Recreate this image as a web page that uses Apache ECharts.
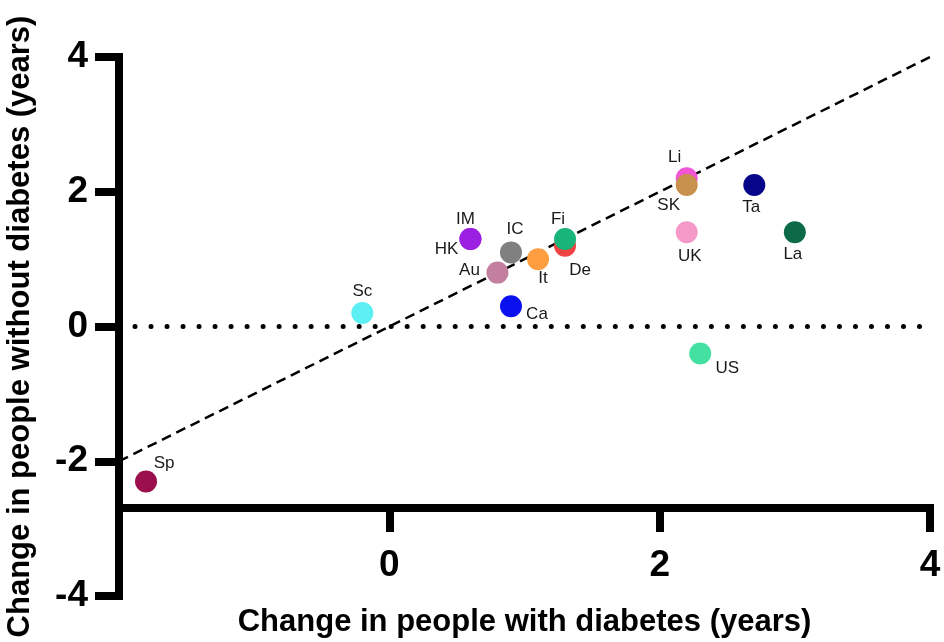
<!DOCTYPE html>
<html>
<head>
<meta charset="utf-8">
<script src="https://cdn.jsdelivr.net/npm/echarts@6/dist/echarts.min.js"></script>
<style>
  html, body { margin: 0; padding: 0; background: #fff; }
  #chart { width: 944px; height: 642px; }
</style>
</head>
<body>
<div id="chart"></div>
<script>
// Country codes and the change in life expectancy (years)
const countries       = ['Sp', 'Sc', 'HK', 'IM', 'Au', 'IC', 'Ca', 'It', 'De', 'Fi', 'Li', 'SK', 'UK', 'Ta', 'La', 'US'];
const withDiabetes    = [-1.8, -0.2, 0.6, 0.6, 0.8, 0.9, 0.9, 1.1, 1.3, 1.3, 2.2, 2.2, 2.2, 2.7, 3.0, 2.3];
const withoutDiabetes = [-2.3,  0.2, 1.3, 1.3, 0.8, 1.1, 0.3, 1.0, 1.2, 1.3, 2.2, 2.1, 1.4, 2.1, 1.4, -0.4];
const xTicks = [-2, 0, 2, 4];
const yTicks = [-4, -2, 0, 2, 4];

// Marker colours and label placement per country
const colours = {
  Sp: '#9a0f4c', Sc: '#5cf0f5', HK: '#9c20e2', IM: '#9c20e2', Au: '#c27f9f',
  IC: '#808080', Ca: '#0a10ee', It: '#ff9e40', De: '#f04444', Fi: '#18b47a',
  Li: '#f055d6', SK: '#c9924c', UK: '#f59ac8', Ta: '#06068a', La: '#0c6a46', US: '#44e0a2'
};
const labelOffsets = {
  Sp: [18, -18], Sc: [0, -22], HK: [-24, 10], IM: [-5, -20], Au: [-28, -2],
  IC: [4, -23], Ca: [26, 8], It: [5, 19], De: [15, 25], Fi: [-7, -20],
  Li: [-12, -21], SK: [-18, 20], UK: [3, 24], Ta: [-3, 22], La: [-2, 22], US: [27, 15]
};

const axisFont = "'Liberation Sans', Arial, sans-serif";
const labelFont = "'Liberation Sans', Arial, sans-serif";

const points = countries.map((c, i) => ({
  name: c,
  value: [withDiabetes[i], withoutDiabetes[i]],
  itemStyle: { color: colours[c], opacity: 1 },
  label: { offset: labelOffsets[c] }
}));

const chart = echarts.init(document.getElementById('chart'), null, { renderer: 'canvas' });
chart.setOption({
  animation: false,
  backgroundColor: '#fff',
  grid: { left: 119, right: 14, top: 57, bottom: 46, containLabel: false, outerBoundsMode: 'none' },
  xAxis: {
    type: 'value',
    min: xTicks[0], max: xTicks[xTicks.length - 1], interval: 2,
    offset: -88,
    axisLine: { onZero: false, lineStyle: { color: '#000', width: 8, cap: 'square' } },
    axisTick: { show: true, length: 24, lineStyle: { color: '#000', width: 8 } },
    axisLabel: { showMinLabel: false, margin: 39, color: '#000', fontSize: 37, fontWeight: 'bold', fontFamily: axisFont },
    splitLine: { show: false },
    name: 'Change in people with diabetes (years)',
    nameLocation: 'middle', nameGap: 99,
    nameTextStyle: { color: '#000', fontSize: 31, fontWeight: 'bold', fontFamily: axisFont }
  },
  yAxis: {
    type: 'value',
    min: yTicks[0], max: yTicks[yTicks.length - 1], interval: 2,
    axisLine: { show: true, onZero: false, lineStyle: { color: '#000', width: 8, cap: 'square' } },
    axisTick: { show: true, length: 24, lineStyle: { color: '#000', width: 8 } },
    axisLabel: { margin: 31, color: '#000', fontSize: 37, fontWeight: 'bold', fontFamily: axisFont },
    splitLine: { show: false },
    name: 'Change in people without diabetes (years)',
    nameLocation: 'middle', nameGap: 83, nameRotate: 90,
    nameTextStyle: { color: '#000', fontSize: 31, fontWeight: 'bold', fontFamily: axisFont }
  },
  series: [
    {
      // line of equal change
      type: 'line',
      data: [[xTicks[0], xTicks[0]], [xTicks[xTicks.length - 1], xTicks[xTicks.length - 1]]],
      symbol: 'none', silent: true, z: 1,
      lineStyle: { color: '#000', width: 2.5, type: [10, 6] }
    },
    {
      // zero change in people without diabetes
      type: 'line',
      data: [[xTicks[0], 0], [xTicks[xTicks.length - 1], 0]],
      symbol: 'none', silent: true, z: 1,
      lineStyle: { color: '#000', width: 5, type: [0.01, 16], cap: 'round' }
    },
    {
      type: 'scatter',
      symbol: 'circle', symbolSize: 22, z: 3,
      data: points,
      label: {
        show: true, position: 'inside',
        formatter: p => p.name,
        color: '#1a1a1a', fontSize: 17, fontFamily: labelFont
      }
    }
  ]
});
</script>
</body>
</html>
